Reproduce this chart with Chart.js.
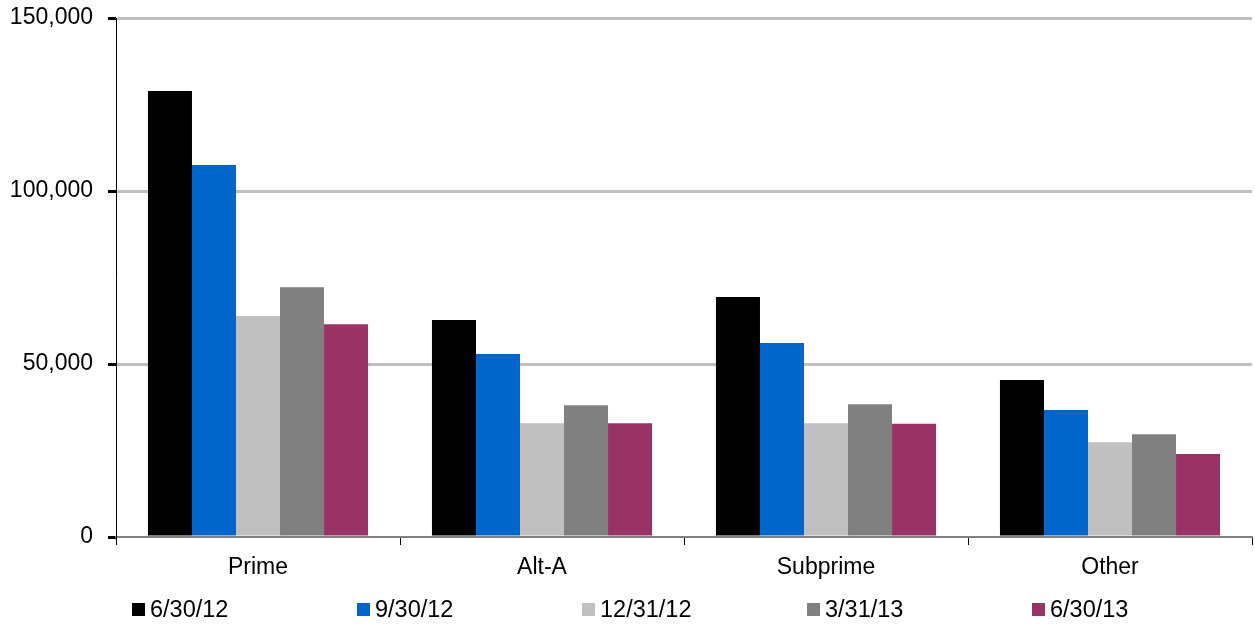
<!DOCTYPE html>
<html>
<head>
<meta charset="utf-8">
<script src="https://cdn.jsdelivr.net/npm/chart.js@4/dist/chart.umd.min.js"></script>
<style>
  html, body { margin: 0; padding: 0; background: #fff; }
  #wrap { position: relative; width: 1255px; height: 624px; }
  #legend {
    position: absolute; left: 132px; top: 596px;
    display: flex; font-family: "Liberation Sans", Arial, sans-serif; font-size: 23.5px; color: #000;
  }
  #legend .item { width: 225px; display: flex; align-items: center; }
  #legend .box { width: 13px; height: 13px; margin-right: 5px; }
</style>
</head>
<body>
<div id="wrap">
  <canvas id="chart" width="1255" height="624"></canvas>
  <div id="legend"></div>
</div>
<script>
// categories and series
const categories = ['Prime', 'Alt-A', 'Subprime', 'Other'];
const seriesNames = ['6/30/12', '9/30/12', '12/31/12', '3/31/13', '6/30/13'];
const seriesColors = ['#000000', '#0066CC', '#C0C0C0', '#808080', '#993366'];

const q2_12 = [128900, 62700, 69400, 45400];
const q3_12 = [107500, 52900, 56100, 36700];
const q4_12 = [63900, 32900, 32900, 27400];
const q1_13 = [72200, 38100, 38400, 29700];
const q2_13 = [61500, 32900, 32700, 24000];
const seriesValues = [q2_12, q3_12, q4_12, q1_13, q2_13];

const yTicks = [0, 50000, 100000, 150000];

const font = { family: '"Liberation Sans", Arial, sans-serif', size: 23 };

const ctx = document.getElementById('chart').getContext('2d');
new Chart(ctx, {
  type: 'bar',
  data: {
    labels: categories,
    datasets: seriesNames.map((name, i) => ({
      label: name,
      data: seriesValues[i],
      backgroundColor: seriesColors[i],
      borderWidth: 0,
      barPercentage: 1.0,
      categoryPercentage: 0.775
    }))
  },
  options: {
    responsive: false,
    animation: false,
    layout: { padding: { top: 18, right: 3, bottom: 42, left: 0 } },
    plugins: {
      legend: { display: false },
      tooltip: { enabled: false }
    },
    scales: {
      x: {
        grid: {
          offset: true,
          drawOnChartArea: false,
          drawTicks: true,
          tickLength: 8,
          tickColor: '#000'
        },
        border: { display: true, color: '#808080', width: 2 },
        ticks: { color: '#000', font: font, padding: 9, maxRotation: 0 },
        afterFit: (axis) => { axis.height = 45; }
      },
      y: {
        min: 0,
        max: 150000,
        afterBuildTicks: (axis) => { axis.ticks = yTicks.map(v => ({ value: v })); },
        grid: {
          color: (c) => c.tick && c.tick.value === 0 ? 'rgba(0,0,0,0)' : '#C0C0C0',
          lineWidth: 3,
          drawTicks: true,
          tickLength: 8,
          tickColor: '#000'
        },
        border: { display: true, color: '#000', width: 1 },
        ticks: {
          color: '#000',
          font: font,
          padding: 15,
          callback: (v) => v.toLocaleString('en-US')
        },
        afterFit: (axis) => {
          axis.width = 116;
          axis.paddingTop = 0;
          axis.paddingBottom = 0;
        }
      }
    }
  }
});

// HTML legend built from the series arrays
const legend = document.getElementById('legend');
seriesNames.forEach((name, i) => {
  const item = document.createElement('div');
  item.className = 'item';
  item.innerHTML = '<span class="box" style="background:' + seriesColors[i] + '"></span><span>' + name + '</span>';
  legend.appendChild(item);
});
</script>
</body>
</html>
